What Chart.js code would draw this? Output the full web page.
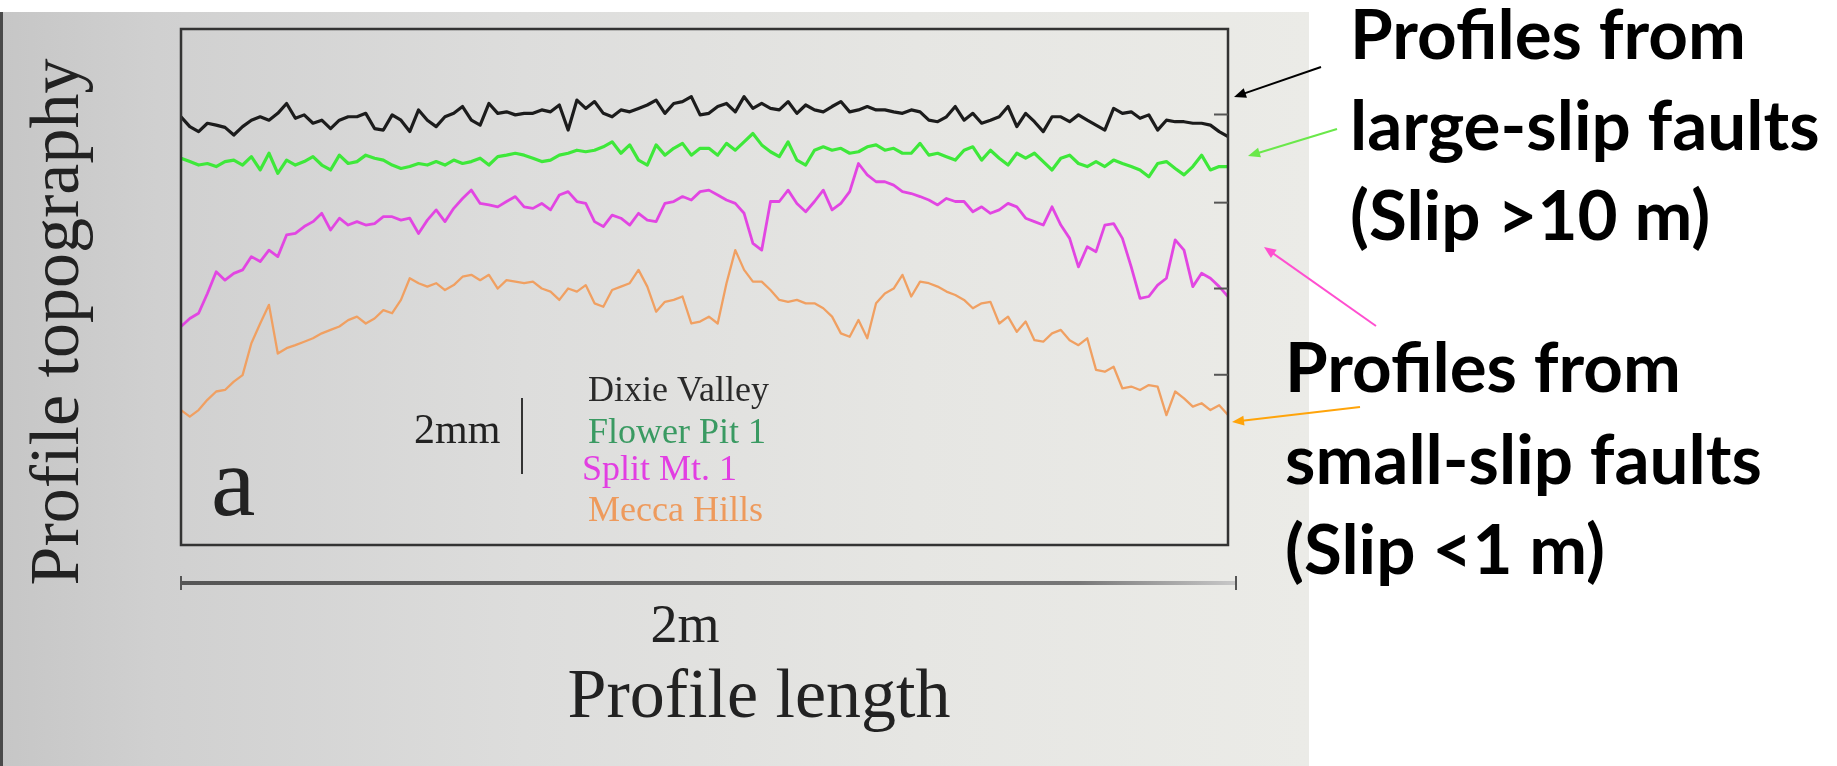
<!DOCTYPE html>
<html>
<head>
<meta charset="utf-8">
<script src="https://cdn.jsdelivr.net/npm/chart.js@4/dist/chart.umd.min.js"></script>
<style>
  html,body{margin:0;padding:0;background:#fff;overflow:hidden;}
  #wrap{position:relative;width:1837px;height:766px;}
</style>
</head>
<body>
<div id="wrap"><canvas id="c"></canvas></div>
<script>
// profile heights in mm, one sample every ~1.7 cm along the 2 m profile
var DIXIE=[11.27,11.01,10.88,11.10,11.05,10.99,10.79,11.01,11.18,11.27,11.18,11.36,11.62,11.23,11.32,11.10,11.18,10.96,11.18,11.27,
  11.27,11.36,10.96,10.92,11.32,11.18,10.88,11.45,11.18,11.01,11.27,11.36,11.54,11.18,11.05,11.62,11.36,11.40,11.32,11.36,
  11.36,11.45,11.40,11.58,10.92,11.71,11.49,11.67,11.36,11.27,11.45,11.40,11.49,11.58,11.71,11.36,11.62,11.67,11.80,11.32,
  11.36,11.54,11.62,11.40,11.80,11.49,11.62,11.49,11.45,11.67,11.36,11.58,11.45,11.40,11.54,11.67,11.40,11.45,11.54,11.45,
  11.45,11.40,11.36,11.45,11.40,11.18,11.14,11.27,11.54,11.18,11.36,11.10,11.18,11.27,11.54,11.01,11.36,11.14,10.88,11.27,
  11.27,11.14,11.32,11.18,11.05,10.92,11.49,11.36,11.40,11.23,11.32,10.92,11.18,11.14,11.14,11.10,11.10,11.05,10.88,10.75];
var FLOWER=[10.18,10.09,10.00,10.04,9.96,10.09,10.13,10.00,10.22,9.87,10.31,9.78,10.13,10.00,10.09,10.22,10.00,9.87,10.26,10.04,
  10.09,10.26,10.18,10.13,10.00,9.91,9.96,10.04,10.00,10.09,10.00,10.13,10.04,10.09,10.18,10.00,10.22,10.26,10.31,10.26,
  10.18,10.09,10.13,10.26,10.31,10.39,10.35,10.39,10.48,10.61,10.31,10.53,10.13,10.00,10.53,10.26,10.44,10.57,10.26,10.44,
  10.44,10.26,10.57,10.39,10.61,10.83,10.53,10.35,10.22,10.61,10.13,10.00,10.39,10.48,10.39,10.44,10.31,10.35,10.48,10.53,
  10.39,10.44,10.31,10.31,10.57,10.26,10.31,10.22,10.13,10.39,10.48,10.13,10.39,10.18,10.00,10.31,10.18,10.31,10.09,9.87,
  10.18,10.26,10.04,9.96,10.09,9.96,10.13,10.04,9.96,9.87,9.69,10.04,10.09,9.91,9.74,9.96,10.26,9.87,9.96,9.96];
var SPLIT=[5.75,5.96,6.10,6.62,7.19,6.97,7.15,7.24,7.59,7.46,7.76,7.59,8.16,8.20,8.38,8.51,8.73,8.29,8.60,8.42,
  8.51,8.42,8.46,8.64,8.64,8.55,8.60,8.20,8.55,8.82,8.51,8.86,9.12,9.34,8.99,8.95,8.90,9.04,9.17,8.90,
  8.86,8.99,8.82,9.21,9.30,9.04,8.99,8.51,8.38,8.68,8.60,8.42,8.73,8.55,8.51,8.99,9.04,9.17,9.08,9.30,
  9.34,9.21,9.08,8.99,8.73,7.94,7.76,9.04,9.04,9.34,8.99,8.77,9.04,9.34,8.82,8.99,9.30,10.04,9.74,9.56,
  9.56,9.47,9.30,9.25,9.17,9.08,8.95,9.12,9.04,9.04,8.77,8.90,8.73,8.82,8.99,8.90,8.60,8.51,8.42,8.90,
  8.42,8.07,7.32,7.85,7.72,8.42,8.46,8.07,7.32,6.49,6.54,6.84,7.02,8.03,7.76,6.80,7.15,7.02,6.80,6.54];
var MECCA=[3.55,3.38,3.55,3.82,4.04,4.08,4.30,4.47,5.31,5.83,6.32,5.04,5.18,5.26,5.35,5.44,5.57,5.66,5.75,5.92,
  6.01,5.83,5.96,6.18,6.10,6.45,7.02,6.89,6.80,6.89,6.71,6.84,7.06,7.11,6.97,7.11,6.75,6.97,6.93,6.89,
  6.93,6.75,6.67,6.45,6.75,6.67,6.84,6.36,6.27,6.71,6.80,6.89,7.24,6.80,6.14,6.40,6.45,6.54,5.83,5.88,
  6.01,5.83,6.89,7.76,7.24,6.93,6.93,6.71,6.45,6.40,6.45,6.36,6.36,6.23,6.01,5.57,5.48,5.92,5.44,6.36,
  6.62,6.75,7.11,6.54,6.93,6.89,6.80,6.67,6.58,6.45,6.23,6.36,6.40,5.83,6.01,5.61,5.88,5.39,5.35,5.57,
  5.66,5.39,5.26,5.44,4.61,4.56,4.69,4.12,4.17,4.08,4.21,4.17,3.42,4.04,3.86,3.64,3.73,3.55,3.68,3.42];
var NAMES=['Dixie Valley','Flower Pit 1','Split Mt. 1','Mecca Hills'];
var LINE_COL=['#1c1c1c','#3ee83a','#e246e2','#f0a062'];
var LINE_W=[3.2,3.2,2.8,2.3];
var TEXT_COL=['#2a2a2a','#3a9a62','#e23ee2','#ee9a5c'];
var X_MAX=2, Y_MAX=13.58;          // m, mm
var Y_TICKS=[11.33,9.01,6.75,4.48]; // right-hand tick marks, mm
var NOTES=[['Profiles from','large-slip faults','(Slip >10 m)'],['Profiles from','small-slip faults','(Slip <1 m)']];

var DIST=DIXIE.map(function(v,i){return i*X_MAX/(DIXIE.length-1);});
function pts(a){return a.map(function(v,i){return {x:DIST[i],y:v};});}

function arrow(c,x1,y1,x2,y2,col){
  var a=Math.atan2(y2-y1,x2-x1);
  c.strokeStyle=col;c.fillStyle=col;c.lineWidth=2;
  c.beginPath();c.moveTo(x1,y1);c.lineTo(x2-8*Math.cos(a),y2-8*Math.sin(a));c.stroke();
  c.beginPath();c.moveTo(x2,y2);
  c.lineTo(x2-12*Math.cos(a)+5*Math.sin(a),y2-12*Math.sin(a)-5*Math.cos(a));
  c.lineTo(x2-12*Math.cos(a)-5*Math.sin(a),y2-12*Math.sin(a)+5*Math.cos(a));
  c.closePath();c.fill();
}

var deco={
  id:'deco',
  beforeDraw:function(ch){
    var c=ch.ctx,H=ch.height;
    c.save();
    c.fillStyle='#fff';c.fillRect(0,0,ch.width,H);
    var g=c.createLinearGradient(0,0,1309,0);
    g.addColorStop(0,'#c6c6c6');g.addColorStop(0.12,'#d0d0d0');g.addColorStop(0.4,'#dddddc');
    g.addColorStop(0.7,'#e6e6e3');g.addColorStop(1,'#ebebe7');
    c.fillStyle=g;c.fillRect(0,12,1309,H-12);
    c.fillStyle='#4a4a4a';c.fillRect(0,12,3,H-12);
    c.restore();
  },
  afterDraw:function(ch){
    var c=ch.ctx,a=ch.chartArea,sx=ch.scales.x,sy=ch.scales.y;
    c.save();
    // frame + ticks
    c.strokeStyle='#333';c.lineWidth=2.5;
    c.strokeRect(a.left,a.top,a.right-a.left,a.bottom-a.top);
    c.lineWidth=2;c.strokeStyle='#555';
    Y_TICKS.forEach(function(v){var y=sy.getPixelForValue(v);c.beginPath();c.moveTo(a.right-14,y);c.lineTo(a.right,y);c.stroke();});
    // 2 m scale bar
    var x0=sx.getPixelForValue(0),x1=sx.getPixelForValue(X_MAX)+8,yb=583;
    var g=c.createLinearGradient(x0,0,x1,0);
    g.addColorStop(0,'#555');g.addColorStop(0.85,'#777');g.addColorStop(1,'#c8c8c8');
    c.strokeStyle=g;c.lineWidth=4;
    c.beginPath();c.moveTo(x0,yb);c.lineTo(x1,yb);c.stroke();
    c.lineWidth=2;c.strokeStyle='#555';
    c.beginPath();c.moveTo(x0,yb-7);c.lineTo(x0,yb+7);c.moveTo(x1,yb-7);c.lineTo(x1,yb+7);c.stroke();
    c.fillStyle='#222';c.textBaseline='alphabetic';
    c.font='54px "Liberation Serif"';c.textAlign='center';
    c.fillText('2m',685,642);
    c.font='70px "Liberation Serif"';
    c.fillText('Profile length',759,717);
    c.save();c.translate(78,322);c.rotate(-Math.PI/2);c.fillText('Profile topography',0,0);c.restore();
    // inside labels
    c.textAlign='left';
    c.font='100px "Liberation Serif"';c.fillText('a',211,515);
    c.font='42px "Liberation Serif"';c.fillText('2mm',414,443);
    c.strokeStyle='#333';c.lineWidth=2;
    c.beginPath();c.moveTo(522,398);c.lineTo(522,474);c.stroke();
    c.font='36px "Liberation Serif"';
    var ly=[401,443,480,521],lx=[588,588,582,588];
    NAMES.forEach(function(n,i){c.fillStyle=TEXT_COL[i];c.fillText(n,lx[i],ly[i]);});
    // annotations
    c.fillStyle='#000';c.font='bold 68px Lato';
    var k=396/c.measureText(NOTES[0][0]).width;
    var bx=[1350,1285],by=[[59,150,240],[392,484,574]];
    NOTES.forEach(function(b,j){b.forEach(function(t,i){
      c.save();c.translate(bx[j],by[j][i]);c.scale(k,1);c.fillText(t,0,0);c.restore();
    });});
    arrow(c,1321,67,1234,97,'#000');
    arrow(c,1337,129,1248,156,'#6ae84a');
    arrow(c,1376,326,1264,247,'#ff4fd0');
    arrow(c,1360,407,1232,422,'#ffa40a');
    c.restore();
  }
};

new Chart(document.getElementById('c'),{
  type:'line',
  data:{datasets:[DIXIE,FLOWER,SPLIT,MECCA].map(function(a,i){
    return {label:NAMES[i],data:pts(a),borderColor:LINE_COL[i],borderWidth:LINE_W[i],pointRadius:0,tension:0,fill:false,borderJoinStyle:'round'};
  })},
  options:{
    responsive:true,maintainAspectRatio:false,animation:false,
    layout:{padding:{left:181,right:609,top:29,bottom:221}},
    plugins:{legend:{display:false},tooltip:{enabled:false}},
    scales:{
      x:{type:'linear',display:false,min:0,max:X_MAX},
      y:{display:false,min:0,max:Y_MAX}
    }
  },
  plugins:[deco]
});
</script>
</body>
</html>
